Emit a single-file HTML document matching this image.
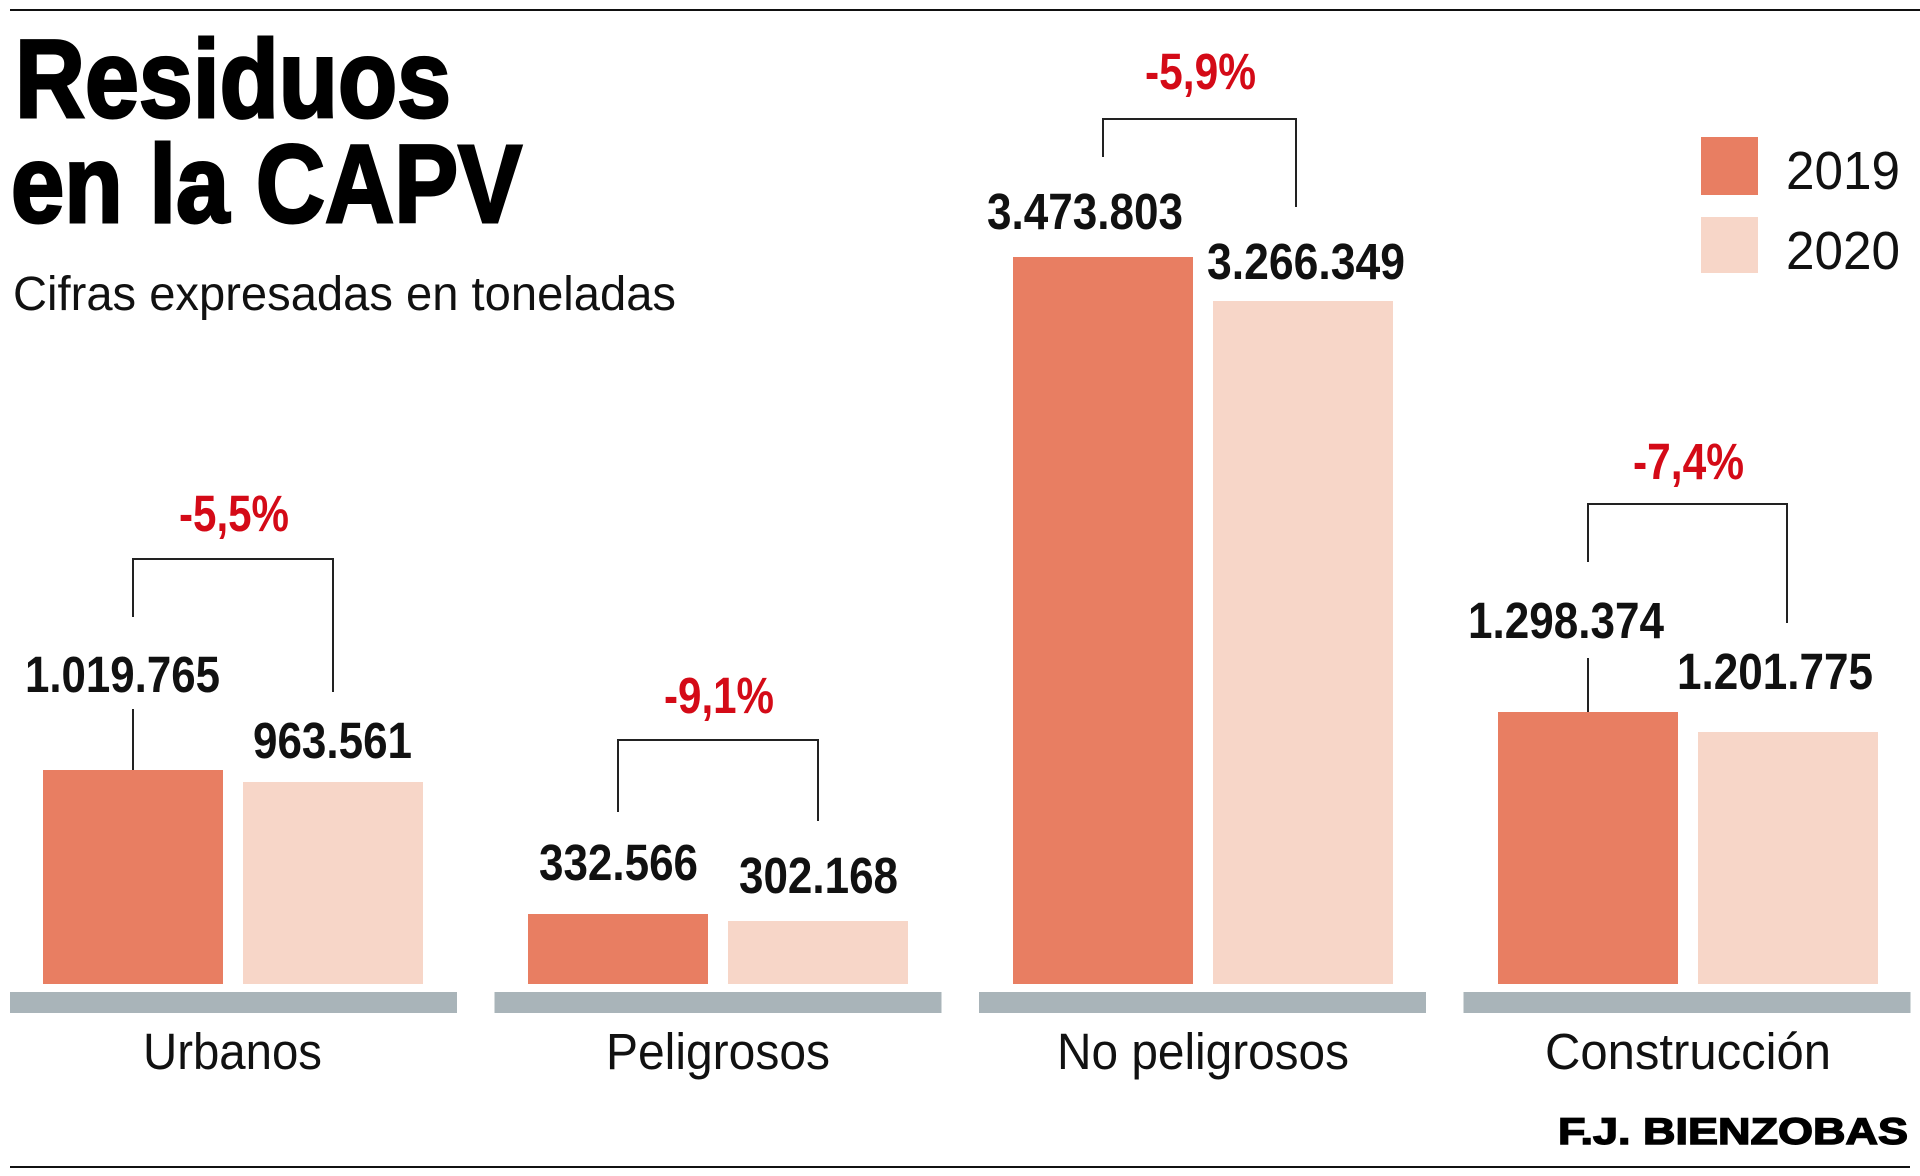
<!DOCTYPE html>
<html>
<head>
<meta charset="utf-8">
<style>
  html, body { margin: 0; padding: 0; background: #ffffff; }
  svg { display: block; }
  text { font-family: "Liberation Sans", "DejaVu Sans", sans-serif; }
</style>
</head>
<body>
<svg width="1920" height="1176" viewBox="0 0 1920 1176" xmlns="http://www.w3.org/2000/svg">
  <rect x="0" y="0" width="1920" height="1176" fill="#ffffff"/>

  <!-- top rule -->
  <rect x="10" y="9" width="1910" height="2" fill="#111"/>

  <!-- title -->
  <text x="15" y="117" font-size="110" font-weight="bold" fill="#000" stroke="#000" stroke-width="3" textLength="436" lengthAdjust="spacingAndGlyphs">Residuos</text>
  <text x="11" y="222" font-size="110" font-weight="bold" fill="#000" stroke="#000" stroke-width="3" textLength="511" lengthAdjust="spacingAndGlyphs">en la CAPV</text>
  <text x="13" y="310" font-size="48" fill="#111" textLength="663" lengthAdjust="spacingAndGlyphs">Cifras expresadas en toneladas</text>

  <!-- legend -->
  <rect x="1701" y="137" width="57" height="58" fill="#E87E62"/>
  <rect x="1701" y="217" width="57" height="56" fill="#F7D6C8"/>
  <text x="1786" y="189" font-size="54" fill="#111" textLength="114" lengthAdjust="spacingAndGlyphs">2019</text>
  <text x="1786" y="269" font-size="54" fill="#111" textLength="114" lengthAdjust="spacingAndGlyphs">2020</text>

  <!-- baseline gray bars -->
  <rect x="10" y="992" width="447" height="21" fill="#A9B4B9"/>
  <rect x="494.5" y="992" width="447" height="21" fill="#A9B4B9"/>
  <rect x="979" y="992" width="447" height="21" fill="#A9B4B9"/>
  <rect x="1463.5" y="992" width="447" height="21" fill="#A9B4B9"/>

  <!-- bars -->
  <rect x="43" y="770" width="180" height="214" fill="#E87E62"/>
  <rect x="243" y="782" width="180" height="202" fill="#F7D6C8"/>

  <rect x="528" y="914" width="180" height="70" fill="#E87E62"/>
  <rect x="728" y="921" width="180" height="63" fill="#F7D6C8"/>

  <rect x="1013" y="257" width="180" height="727" fill="#E87E62"/>
  <rect x="1213" y="301" width="180" height="683" fill="#F7D6C8"/>

  <rect x="1498" y="712" width="180" height="272" fill="#E87E62"/>
  <rect x="1698" y="732" width="180" height="252" fill="#F7D6C8"/>

  <!-- brackets -->
  <g stroke="#222" stroke-width="2" fill="none">
    <polyline points="133,617 133,559 333,559 333,692"/>
    <line x1="133" y1="709" x2="133" y2="770"/>

    <polyline points="618,812 618,740 818,740 818,821"/>

    <polyline points="1103,157 1103,119 1296,119 1296,207"/>

    <polyline points="1588,562 1588,504 1787,504 1787,623"/>
    <line x1="1588" y1="658" x2="1588" y2="712"/>
  </g>

  <!-- percentage labels -->
  <g font-size="51" font-weight="bold" fill="#D40A17">
    <text x="179" y="531" textLength="110" lengthAdjust="spacingAndGlyphs">-5,5%</text>
    <text x="664" y="713" textLength="110" lengthAdjust="spacingAndGlyphs">-9,1%</text>
    <text x="1145" y="89" textLength="111" lengthAdjust="spacingAndGlyphs">-5,9%</text>
    <text x="1633" y="479" textLength="111" lengthAdjust="spacingAndGlyphs">-7,4%</text>
  </g>

  <!-- value labels -->
  <g font-size="51" font-weight="bold" fill="#111">
    <text x="25" y="692" textLength="195" lengthAdjust="spacingAndGlyphs">1.019.765</text>
    <text x="253" y="758" textLength="159" lengthAdjust="spacingAndGlyphs">963.561</text>
    <text x="539" y="880" textLength="159" lengthAdjust="spacingAndGlyphs">332.566</text>
    <text x="739" y="893" textLength="159" lengthAdjust="spacingAndGlyphs">302.168</text>
    <text x="987" y="229" textLength="196" lengthAdjust="spacingAndGlyphs">3.473.803</text>
    <text x="1207" y="279" textLength="198" lengthAdjust="spacingAndGlyphs">3.266.349</text>
    <text x="1468" y="638" textLength="196" lengthAdjust="spacingAndGlyphs">1.298.374</text>
    <text x="1677" y="689" textLength="196" lengthAdjust="spacingAndGlyphs">1.201.775</text>
  </g>

  <!-- category labels -->
  <g font-size="51" fill="#111">
    <text x="143" y="1069" textLength="179" lengthAdjust="spacingAndGlyphs">Urbanos</text>
    <text x="606" y="1069" textLength="224" lengthAdjust="spacingAndGlyphs">Peligrosos</text>
    <text x="1057" y="1069" textLength="292" lengthAdjust="spacingAndGlyphs">No peligrosos</text>
    <text x="1545" y="1069" textLength="286" lengthAdjust="spacingAndGlyphs">Construcción</text>
  </g>

  <!-- credit -->
  <text x="1558" y="1144" font-size="37" font-weight="bold" fill="#000" stroke="#000" stroke-width="1.4" textLength="350" lengthAdjust="spacingAndGlyphs">F.J. BIENZOBAS</text>

  <!-- bottom rule -->
  <rect x="10" y="1166" width="1900" height="2" fill="#111"/>
</svg>
</body>
</html>
